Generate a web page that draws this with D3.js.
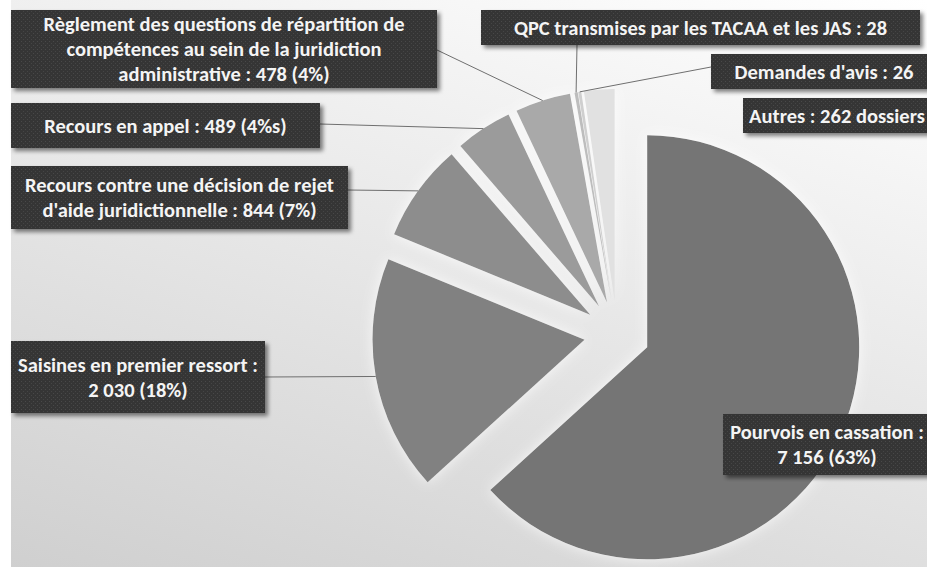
<!DOCTYPE html>
<html><head><meta charset="utf-8">
<script src="https://cdn.jsdelivr.net/npm/d3@7/dist/d3.min.js"></script>
<style>
html,body{margin:0;padding:0;background:#fff;}
svg{display:block;}
text{font-family:Carlito,Lato,"Open Sans",sans-serif;font-weight:bold;}
</style></head>
<body>
<svg id="chart" width="927" height="567"></svg>
<script>
// ---------- data ----------
const categories = [
  "Pourvois en cassation",
  "Saisines en premier ressort",
  "Recours contre une décision de rejet d'aide juridictionnelle",
  "Recours en appel",
  "Règlement des questions de répartition de compétences au sein de la juridiction administrative",
  "QPC transmises par les TACAA et les JAS",
  "Demandes d'avis",
  "Autres"
];
const values = [7156, 2030, 844, 489, 478, 28, 26, 262];
const labelLines = [
  ["Pourvois en cassation :", "7 156 (63%)"],
  ["Saisines en premier ressort :", "2 030 (18%)"],
  ["Recours contre une décision de rejet", "d'aide juridictionnelle : 844 (7%)"],
  ["Recours en appel : 489 (4%s)"],
  ["Règlement des questions de répartition de", "compétences au sein de la juridiction", "administrative : 478 (4%)"],
  ["QPC transmises par les TACAA et les JAS : 28"],
  ["Demandes d'avis : 26"],
  ["Autres : 262 dossiers"]
];

// ---------- style / layout ----------
const W = 927, H = 567;
const sliceColors = ["#747474", "#818181", "#8d8d8d", "#9b9b9b", "#a9a9a9", "#bdbdbd", "#cfcfcf", "#e1e1e1"];
const cx = 617, cy = 334, R = 212, explode = 33;
const fontSize = 20.5, lineGap = 25;
// label boxes: x, y, w, h, anchor (side, offset) or null
const boxes = [
  {x: 723, y: 414, w: 208, h: 61, anchor: null},
  {x: 11, y: 341, w: 254, h: 72, anchor: {side: "right", off: 36}},
  {x: 11, y: 166, w: 337, h: 63, anchor: {side: "right", off: 24}},
  {x: 11, y: 103, w: 309, h: 45, anchor: {side: "right", off: 21}},
  {x: 11, y: 10, w: 426, h: 78, anchor: {side: "right", off: 40}},
  {x: 481, y: 10, w: 439, h: 35, anchor: {side: "bottom", off: 96}},
  {x: 711, y: 54, w: 226, h: 35, anchor: {side: "left", off: 13}},
  {x: 743, y: 98, w: 188, h: 35, anchor: null}
];

const svg = d3.select("#chart");
const defs = svg.append("defs");

// background gradient
const bg = defs.append("linearGradient").attr("id", "bg")
  .attr("gradientUnits", "userSpaceOnUse")
  .attr("x1", 927).attr("y1", 0).attr("x2", 650).attr("y2", 923);
bg.append("stop").attr("offset", "0%").attr("stop-color", "#ffffff");
bg.append("stop").attr("offset", "100%").attr("stop-color", "#c6c6c6");

// glow around slices
const glow = defs.append("filter").attr("id", "glow")
  .attr("x", "-20%").attr("y", "-20%").attr("width", "140%").attr("height", "140%");
glow.append("feGaussianBlur").attr("in", "SourceAlpha").attr("stdDeviation", 7).attr("result", "b");
glow.append("feFlood").attr("flood-color", "#ffffff").attr("flood-opacity", 0.75).attr("result", "f");
glow.append("feComposite").attr("in", "f").attr("in2", "b").attr("operator", "in").attr("result", "g");
glow.append("feGaussianBlur").attr("in", "SourceGraphic").attr("stdDeviation", 0.6).attr("result", "s");
const gm = glow.append("feMerge");
gm.append("feMergeNode").attr("in", "g");
gm.append("feMergeNode").attr("in", "s");

// box shadow
const sh = defs.append("filter").attr("id", "shadow")
  .attr("x", "-10%").attr("y", "-20%").attr("width", "130%").attr("height", "160%");
sh.append("feGaussianBlur").attr("in", "SourceAlpha").attr("stdDeviation", 2).attr("result", "b");
sh.append("feOffset").attr("in", "b").attr("dx", 3).attr("dy", 3).attr("result", "o");
sh.append("feComponentTransfer").attr("in", "o").attr("result", "o2")
  .append("feFuncA").attr("type", "linear").attr("slope", 0.5);
const sm = sh.append("feMerge");
sm.append("feMergeNode").attr("in", "o2");
sm.append("feMergeNode").attr("in", "SourceGraphic");

// dotted texture
const pat = defs.append("pattern").attr("id", "dots")
  .attr("patternUnits", "userSpaceOnUse").attr("width", 4).attr("height", 4);
pat.append("rect").attr("width", 4).attr("height", 4).attr("fill", "#363636");
pat.append("rect").attr("x", 1).attr("y", 1).attr("width", 1).attr("height", 1).attr("fill", "#4a4a4a");
pat.append("rect").attr("x", 3).attr("y", 3).attr("width", 1).attr("height", 1).attr("fill", "#444444");

// background
svg.append("rect").attr("x", 11).attr("y", 0).attr("width", W - 11).attr("height", H).attr("fill", "url(#bg)");

// pie
const pie = d3.pie().sort(null).value(d => d)(values);
const arc = d3.arc().innerRadius(0).outerRadius(R);
const mid = d => (d.startAngle + d.endAngle) / 2;
const offset = d => [Math.sin(mid(d)) * explode, -Math.cos(mid(d)) * explode];

const gPie = svg.append("g").attr("transform", `translate(${cx},${cy})`).attr("filter", "url(#glow)");
gPie.selectAll("path").data(pie).join("path")
  .attr("d", arc)
  .attr("transform", d => `translate(${offset(d)[0]},${offset(d)[1]})`)
  .attr("fill", (d, i) => sliceColors[i]);

// leader lines
const gLines = svg.append("g");
pie.forEach((d, i) => {
  const b = boxes[i];
  if (!b.anchor) return;
  const o = offset(d);
  const tx = cx + o[0] + Math.sin(mid(d)) * R;
  const ty = cy + o[1] - Math.cos(mid(d)) * R;
  let ax, ay;
  if (b.anchor.side === "right") { ax = b.x + b.w; ay = b.y + b.anchor.off; }
  else if (b.anchor.side === "left") { ax = b.x; ay = b.y + b.anchor.off; }
  else { ax = b.x + b.anchor.off; ay = b.y + b.h; }
  gLines.append("line").attr("x1", ax).attr("y1", ay).attr("x2", tx).attr("y2", ty)
    .attr("stroke", "#6f6f6f").attr("stroke-width", 1);
});

// label boxes
const gLab = svg.append("g");
pie.forEach((d, i) => {
  const b = boxes[i];
  const g = gLab.append("g");
  g.append("rect").attr("x", b.x).attr("y", b.y).attr("width", b.w).attr("height", b.h)
    .attr("fill", "url(#dots)").attr("filter", "url(#shadow)");
  const lines = labelLines[i];
  const n = lines.length;
  const centerY = b.y + b.h / 2;
  lines.forEach((t, k) => {
    g.append("text")
      .attr("x", b.x + b.w / 2)
      .attr("y", centerY + (k - (n - 1) / 2) * lineGap)
      .attr("dy", "0.35em")
      .attr("text-anchor", "middle")
      .attr("font-size", fontSize)
      .attr("fill", "#f4f4f4")
      .text(t);
  });
});
</script>
</body></html>
